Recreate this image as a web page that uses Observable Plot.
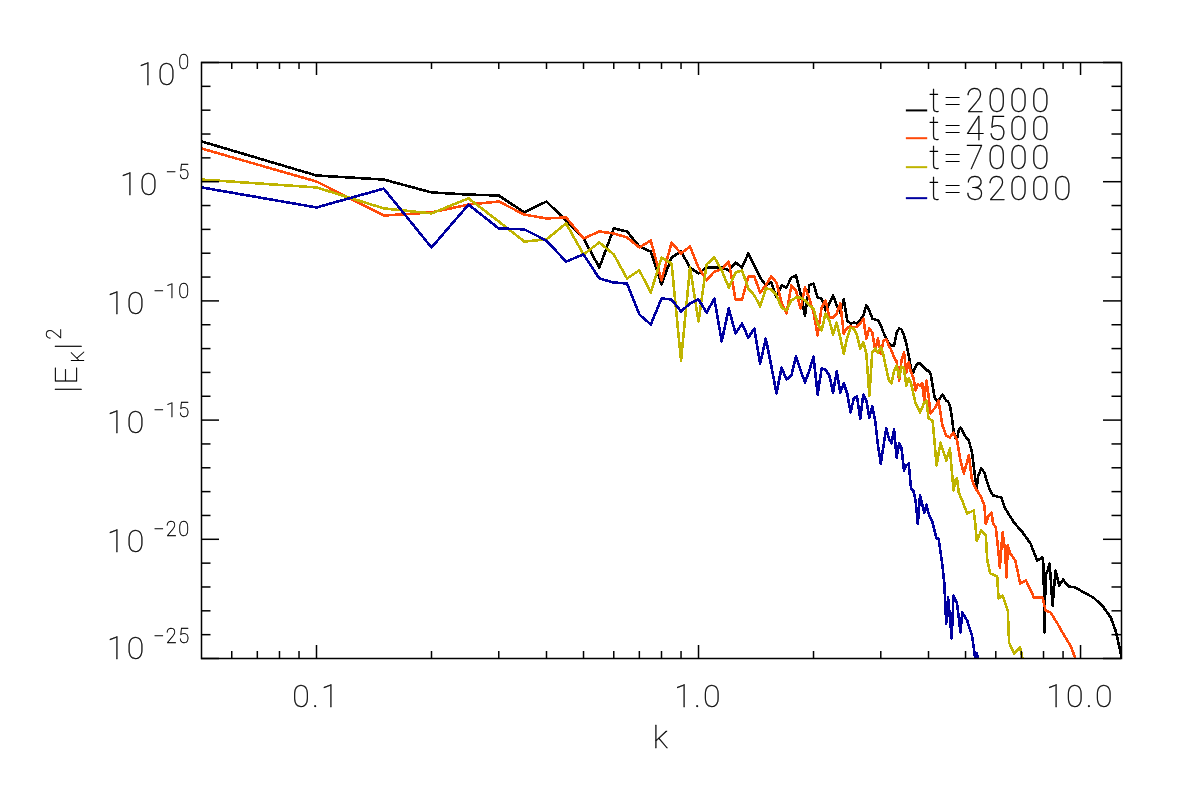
<!DOCTYPE html>
<html>
<head>
<meta charset="utf-8">
<script src="https://cdn.jsdelivr.net/npm/d3@7"></script>
<script src="https://cdn.jsdelivr.net/npm/@observablehq/plot@0.6"></script>
<style>
  body { margin: 0; background: #fff; }
  #chart svg { display: block; will-change: transform; }
  #chart text { letter-spacing: 0.07em; }
</style>
</head>
<body>
<div id="chart"></div>
<script>
// k values shared by all curves up to k = 3.5
const kLow = [0.05,0.1,0.15,0.2,0.25,0.3,0.35,0.4,0.45,0.5,0.55,0.6,0.65,0.7,0.75,0.8,0.85,0.9,0.95,1,
  1.05,1.1,1.15,1.2,1.25,1.3,1.35,1.4,1.45,1.5,1.55,1.6,1.65,1.7,1.75,1.8,1.85,1.9,1.95,2,
  2.05,2.1,2.15,2.2,2.25,2.3,2.35,2.4,2.45,2.5,2.55,2.6,2.65,2.7,2.75,2.8,2.85,2.9,2.95,3,
  3.05,3.1,3.15,3.2,3.25,3.3,3.35,3.4,3.45,3.5];

// log10 |E_k|^2, same order as kLow
const low2000 = [-3.31,-4.74,-4.91,-5.45,-5.54,-5.58,-6.29,-5.83,-6.63,-7.38,-8.6,-6.96,-7.09,-7.72,-7.93,-9.31,-8.18,-7.93,-8.6,-8.85,
  -8.6,-8.6,-8.6,-8.72,-8.39,-8.6,-8.01,-8.52,-9.02,-9.35,-9.23,-9.86,-9.35,-9.44,-9.02,-8.93,-9.69,-10.61,-9.35,-9.27,
  -9.86,-9.9,-10.4,-10.11,-9.77,-10.19,-10.49,-9.94,-10.82,-10.95,-10.91,-10.95,-10.82,-10.61,-10.19,-10.4,-10.74,-10.78,-10.82,-11.03,
  -11.33,-11.58,-11.79,-11.87,-11.87,-11.33,-11.16,-11.2,-11.45,-11.79];
const low4500 = [-3.61,-4.99,-6.42,-6.29,-5.96,-5.83,-6.38,-6.54,-6.5,-7.38,-7.09,-7.17,-7.34,-7.76,-7.47,-9.14,-7.55,-8.01,-7.72,-8.6,
  -9.14,-8.77,-8.68,-8.35,-9.94,-9.94,-8.98,-8.98,-9.65,-9.35,-8.98,-9.23,-10.07,-10.53,-9.35,-9.56,-10.32,-9.44,-9.9,-10.49,
  -11.45,-10.28,-9.98,-10.7,-10.7,-10.53,-10.11,-11.37,-11.12,-11.07,-11.12,-11.07,-10.95,-10.74,-11.58,-11.16,-11.33,-12.08,-11.58,-12.21,
  -11.66,-11.62,-11.87,-12.08,-12.37,-12.54,-13.34,-12.5,-12.16,-13];
const low7000 = [-4.91,-5.24,-6.12,-6.33,-5.7,-6.67,-7.51,-7.42,-6.75,-8.05,-7.55,-8.05,-9.06,-8.72,-9.65,-8.18,-8.43,-12.5,-8.6,-10.86,
  -8.47,-8.18,-8.72,-9.44,-8.81,-8.72,-9.48,-9.77,-10.23,-9.48,-9.52,-9.77,-10.28,-10.4,-9.98,-9.86,-9.86,-9.98,-10.19,-10.32,
  -10.95,-11.24,-10.53,-10.82,-11.41,-10.91,-11.54,-12.21,-11.54,-11.12,-11.16,-11.45,-12,-11.74,-12.21,-13.97,-12.16,-12,-12.16,-11.95,
  -12.29,-12.84,-13.34,-13.46,-12.92,-12.71,-13.21,-12.75,-12.84,-13.55];
const low32000 = [-5.24,-6.08,-5.29,-7.76,-5.96,-6.96,-7,-7.47,-8.35,-8.05,-9.06,-9.23,-9.27,-10.57,-10.99,-9.9,-9.94,-10.44,-10.11,-9.94,
  -10.49,-9.9,-11.7,-10.32,-11.37,-10.95,-11.54,-11.16,-12.63,-11.58,-12.71,-13.88,-12.79,-13.3,-13.13,-12.33,-12.92,-13.42,-12.92,-12.33,
  -13.93,-12.84,-12.88,-13.13,-13.84,-12.96,-13.84,-13.46,-13.88,-14.68,-14.09,-14.01,-14.93,-13.93,-14.18,-14.89,-14.43,-15.02,-16.07,-16.82,
  -16.07,-15.35,-15.77,-15.98,-15.39,-16.57,-15.98,-16.19,-17.11,-16.9];

// high k tails
const kTail2000 = [3.55,3.6,3.65,3.7,3.75,3.8,3.85,3.9,3.95,4,4.05,4.1,4.15,4.2,4.25,4.3,4.35,4.4,4.45,4.5,4.55,4.6,4.65,4.7,4.75,4.8,4.85,4.9,4.95,5,
  5.1,5.2,5.3,5.35,5.4,5.5,5.6,5.7,5.8,5.9,6.2,6.35,6.7,7.05,7.4,7.7,7.95,8,8.05,8.1,8.2,8.3,8.45,8.6,8.8,9,9.3,9.7,10.2,10.8,11.4,12,12.35,12.7,12.8];
const tail2000 = [-12.29,-12.84,-13,-12.75,-12.63,-12.63,-12.71,-12.79,-12.92,-12.92,-13.05,-13.55,-14.05,-14.18,-14.18,-14.05,-13.93,-14.05,-14.18,-14.22,-14.39,-14.81,-15.44,-15.73,-15.77,-15.44,-15.31,-15.44,-15.56,-15.69,
  -15.86,-16.36,-17.45,-17.83,-17.32,-17.03,-17.2,-17.62,-17.95,-18.16,-18.25,-18.71,-19.3,-19.71,-20.18,-20.89,-20.76,-21.1,-23.91,-21.52,-21.31,-21.02,-22.78,-21.31,-21.94,-21.69,-21.98,-22.02,-22.23,-22.44,-22.78,-23.28,-23.83,-24.66,-25];

const kTail4500 = [3.55,3.6,3.65,3.7,3.75,3.8,3.85,3.9,3.95,4,4.05,4.1,4.15,4.2,4.25,4.35,4.45,4.55,4.65,4.75,4.85,4.95,5.1,5.2,5.3,5.4,5.5,5.6,5.65,5.75,5.85,5.9,6,6.1,6.15,6.25,6.35,6.4,6.45,6.55,6.75,6.95,7.2,7.55,7.95,8.1,8.35,8.7,9,9.4,9.7];
const tail4500 = [-12.58,-13,-13.21,-13.76,-13.51,-13.55,-13.46,-14.18,-13.34,-13.97,-14.72,-14.6,-14.51,-14.35,-14.18,-15.23,-15.65,-15.73,-15.52,-15.86,-16.69,-17.24,-16.48,-17.53,-17.83,-18.04,-18.25,-18.58,-19.34,-19,-18.88,-19.34,-19.5,-20.55,-21.18,-19.71,-20.47,-21.6,-20.26,-20.6,-20.89,-21.85,-21.73,-22.44,-22.44,-22.99,-23.07,-23.53,-23.95,-24.45,-25];

const kTail7000 = [3.55,3.6,3.7,3.8,3.9,3.95,4,4.1,4.2,4.3,4.45,4.55,4.65,4.7,4.75,4.8,4.9,5.05,5.25,5.3,5.35,5.5,5.65,5.7,5.8,6.05,6.1,6.25,6.45,6.5,6.7,6.95,7.05];
const tail7000 = [-13.25,-13.46,-14.3,-14.68,-14.26,-14.18,-14.93,-15.02,-16.9,-15.94,-16.69,-16.19,-17.95,-17.53,-17.45,-18.04,-18.37,-18.92,-18.79,-19.34,-20.05,-19.63,-19.84,-20.89,-21.43,-21.56,-22.48,-22.36,-22.99,-24.33,-24.79,-24.54,-25];

const kTail32000 = [3.55,3.6,3.65,3.7,3.75,3.8,3.9,3.95,4,4.1,4.2,4.25,4.35,4.4,4.45,4.5,4.6,4.65,4.75,4.85,4.9,5.05,5.2,5.3,5.35,5.4];
const tail32000 = [-16.82,-17.87,-17.95,-18.37,-19.34,-18.16,-18.88,-18.54,-18.92,-19.3,-19.97,-19.97,-21.1,-21.85,-23.53,-22.44,-24.16,-22.36,-22.69,-23.91,-23.07,-23.41,-24.04,-25,-24.79,-25];

const seriesNames = ["t=2000", "t=4500", "t=7000", "t=32000"];
const seriesColors = ["#000000", "#ff4a0a", "#bfb400", "#0000a0"];
const seriesK = [kTail2000, kTail4500, kTail7000, kTail32000].map(t => kLow.concat(t));
const seriesE = [low2000.concat(tail2000), low4500.concat(tail4500), low7000.concat(tail7000), low32000.concat(tail32000)];

// tick values
const xMinor = [0.06,0.07,0.08,0.09,0.2,0.3,0.4,0.5,0.6,0.7,0.8,0.9,2,3,4,5,6,7,8,9];
const xMajor = [0.1,1,10];
const xLabels = ["0.1","1.0","10.0"];
const yMajor = [0,-5,-10,-15,-20,-25];
const yMinor = d3.range(0, -26, -1).filter(e => e % 5 != 0);

// legend sits in data space
const legendLevels = [-2.01,-3.175,-4.39,-5.69];
const legendK = [3.5, 3.98, 4.02];

const frameW = 920, frameH = 596;
const ink = "#000";
const textStyle = {fontFamily: "Roboto", fontWeight: 100, fill: ink, stroke: ink, strokeWidth: 0.35};

const tickXs = (vals, len) => [
  Plot.tickX(vals, {x: d => d, insetTop: frameH - len, stroke: ink, strokeWidth: 1.5}),
  Plot.tickX(vals, {x: d => d, insetBottom: frameH - len, stroke: ink, strokeWidth: 1.5})
];
const tickYs = (vals, len) => [
  Plot.tickY(vals, {y: d => 10 ** d, insetRight: frameW - len, stroke: ink, strokeWidth: 1.5}),
  Plot.tickY(vals, {y: d => 10 ** d, insetLeft: frameW - len, stroke: ink, strokeWidth: 1.5})
];

// 10 + exponent as two texts, IDL pushes the top and bottom labels inside
const yLabelMarks = yMajor.flatMap(e => {
  const exp = e == 0 ? "0" : "\u2212" + Math.abs(e);
  const dyBase = e == 0 ? 22 : e == -25 ? 0 : 13;
  const dxTen = e == 0 ? -24 : e == -5 ? -42 : -55;
  return [
    Plot.text(["10"], {y: [10 ** e], frameAnchor: "left", dx: dxTen, dy: dyBase, textAnchor: "end", lineAnchor: "bottom", fontSize: 32, ...textStyle}),
    Plot.text([exp], {y: [10 ** e], frameAnchor: "left", dx: -11, dy: dyBase - 16, textAnchor: "end", lineAnchor: "bottom", fontSize: 20, ...textStyle})
  ];
});

const yTitle = (s, px, py, size) => Plot.text([s], {
  frameAnchor: "top-left", dx: px - 201, dy: py - 62, rotate: -90,
  textAnchor: "start", lineAnchor: "bottom", fontSize: size, ...textStyle
});

const chart = Plot.plot({
  width: 1181,
  height: 786,
  marginLeft: 201,
  marginRight: 60,
  marginTop: 62,
  marginBottom: 128,
  x: {type: "log", domain: [0.05, 12.8], axis: null},
  y: {type: "log", domain: [1e-25, 1], axis: null},
  style: {background: "#fff"},
  marks: [
    ...seriesNames.map((name, i) => Plot.line(seriesK[i].map((k, j) => [k, 10 ** seriesE[i][j]]), {
      x: d => d[0], y: d => d[1], stroke: seriesColors[i], strokeWidth: 2.6, strokeLinejoin: "round", shapeRendering: "crispEdges", clip: true
    })),
    ...tickXs(xMinor, 7),
    ...tickXs(xMajor, 13),
    ...tickYs(yMinor, 9.5),
    ...tickYs(yMajor, 18),
    Plot.frame({stroke: ink, strokeWidth: 1.5}),

    Plot.text(xLabels, {x: xMajor, frameAnchor: "bottom", dy: 48, lineAnchor: "bottom", fontSize: 32, ...textStyle}),
    Plot.text(["k"], {x: [0.8], frameAnchor: "bottom", dy: 89, lineAnchor: "bottom", fontSize: 32, ...textStyle}),
    ...yLabelMarks,
    yTitle("|E", 76, 392, 31),
    yTitle("K", 83, 362, 18),
    yTitle("|", 76, 349, 31),
    yTitle("2", 60, 339, 20),

    // legend
    ...seriesNames.map((name, i) => Plot.ruleY([10 ** legendLevels[i]], {x1: legendK[0], x2: legendK[1], stroke: seriesColors[i], strokeWidth: 2})),
    Plot.text(seriesNames, {x: legendK[2], y: legendLevels.map(e => 10 ** e), textAnchor: "start", lineAnchor: "bottom", dy: 2, fontSize: 33, ...textStyle})
  ]
});

// legend digits are spaced wider than the rest
d3.select(chart).selectAll("text").filter(function() { return this.textContent.startsWith("t="); })
  .style("letter-spacing", "0.115em");

d3.select("#chart").append(() => chart);
</script>
</body>
</html>
